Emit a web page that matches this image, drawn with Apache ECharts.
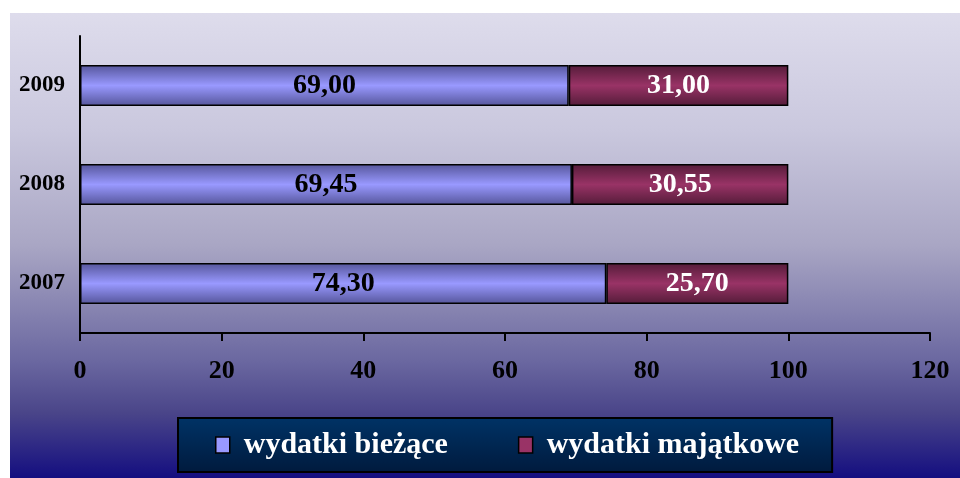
<!DOCTYPE html>
<html>
<head>
<meta charset="utf-8">
<script src="https://cdn.jsdelivr.net/npm/echarts@6/dist/echarts.min.js"></script>
<style>
  html, body { margin: 0; padding: 0; background: #fff; }
  #chart { position: absolute; left: 10px; top: 13px; width: 950px; height: 465px; }
</style>
</head>
<body>
<div id="chart"></div>
<script>
const years = ['2007', '2008', '2009'];
const biezace = [74.30, 69.45, 69.00];
const majatkowe = [25.70, 30.55, 31.00];
const xTicks = [0, 20, 40, 60, 80, 100, 120];

const serif = '"Liberation Serif", "DejaVu Serif", serif';
const fmt = v => v.toFixed(2).replace('.', ',');

function barGrad(edge, mid) {
  return new echarts.graphic.LinearGradient(0, 0, 0, 1, [
    {offset: 0, color: edge},
    {offset: 0.5, color: mid},
    {offset: 1, color: edge}
  ]);
}

const chart = echarts.init(document.getElementById('chart'));
const option = {
  animation: false,
  backgroundColor: new echarts.graphic.LinearGradient(0, 0, 0, 1, [
    {offset: 0, color: '#dedcec'},
    {offset: 0.25, color: '#cac8de'},
    {offset: 0.5, color: '#a9a6c4'},
    {offset: 0.75, color: '#6a67a0'},
    {offset: 0.86, color: '#4a4589'},
    {offset: 1, color: '#140e80'}
  ]),
  grid: {left: 70, right: 30, top: 23, bottom: 145},
  xAxis: {
    type: 'value',
    min: xTicks[0],
    max: xTicks[xTicks.length - 1],
    interval: 20,
    axisLine: {show: true, lineStyle: {color: '#000', width: 2}},
    axisTick: {show: true, length: 8, lineStyle: {color: '#000', width: 2}},
    splitLine: {show: false},
    axisLabel: {
      margin: 25,
      color: '#000',
      fontFamily: serif,
      fontWeight: 'bold',
      fontSize: 26
    }
  },
  yAxis: {
    type: 'category',
    data: years,
    axisLine: {show: true, lineStyle: {color: '#000', width: 2}},
    axisTick: {show: false},
    axisLabel: {
      margin: 15,
      color: '#000',
      fontFamily: serif,
      fontWeight: 'bold',
      fontSize: 23
    }
  },
  legend: {
    left: 168,
    top: 405,
    padding: [12, 33, 12, 37],
    backgroundColor: new echarts.graphic.LinearGradient(0, 0, 0, 1, [
      {offset: 0, color: '#003366'},
      {offset: 1, color: '#001a3d'}
    ]),
    borderColor: '#000',
    borderWidth: 2,
    itemWidth: 14,
    itemHeight: 16,
    itemGap: 70,
    icon: 'rect',
    textStyle: {
      color: '#fff',
      fontFamily: serif,
      fontWeight: 'bold',
      fontSize: 30,
      padding: [0, 0, 0, 9]
    },
    data: [
      {name: 'wydatki bieżące', itemStyle: {color: '#9999ff', borderColor: '#000', borderWidth: 1.5}},
      {name: 'wydatki majątkowe', itemStyle: {color: '#993366', borderColor: '#000', borderWidth: 1.5}}
    ]
  },
  series: [
    {
      name: 'wydatki bieżące',
      type: 'bar',
      stack: 'total',
      barWidth: 41,
      data: biezace,
      itemStyle: {color: barGrad('#55559a', '#9999ff'), borderColor: '#000', borderWidth: 1.5},
      label: {
        show: true,
        position: 'inside',
        formatter: p => fmt(p.value),
        color: '#000',
        fontFamily: serif,
        fontWeight: 'bold',
        fontSize: 28
      }
    },
    {
      name: 'wydatki majątkowe',
      type: 'bar',
      stack: 'total',
      barWidth: 41,
      data: majatkowe,
      itemStyle: {color: barGrad('#541c39', '#993366'), borderColor: '#000', borderWidth: 1.5},
      label: {
        show: true,
        position: 'inside',
        formatter: p => fmt(p.value),
        color: '#fff',
        fontFamily: serif,
        fontWeight: 'bold',
        fontSize: 28
      }
    }
  ]
};
chart.setOption(option);
</script>
</body>
</html>
